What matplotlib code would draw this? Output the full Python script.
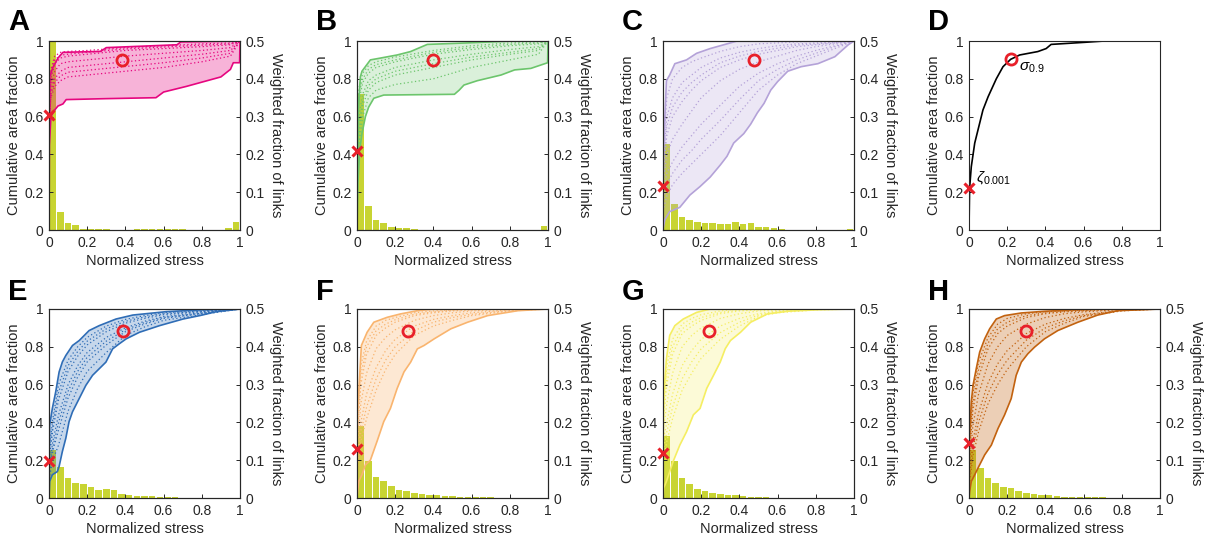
import numpy as np
import matplotlib
matplotlib.use('Agg')
import matplotlib.pyplot as plt
from matplotlib.ticker import FuncFormatter

plt.rcParams['font.family'] = ['Liberation Sans', 'DejaVu Sans']
plt.rcParams['mathtext.fontset'] = 'custom'
plt.rcParams['mathtext.rm'] = 'Liberation Sans'
plt.rcParams['mathtext.it'] = 'Liberation Sans:italic'

# ---- data ----
n_bins = 25  # stress histogram bins on [0, 1]

# A
a_up_x = [0, 0.003, 0.02, 0.047, 0.073, 0.27, 0.30, 0.67, 0.69, 1.0]
a_up_y = [0.3, 0.81, 0.86, 0.91, 0.94, 0.945, 0.965, 0.98, 0.995, 1.0]
a_lo_x = [0, 0.002, 0.01, 0.03, 0.047, 0.073, 0.09, 0.3, 0.56, 0.6, 0.72, 0.9, 0.95, 0.965, 0.998, 1.0]
a_lo_y = [0, 0.45, 0.6, 0.635, 0.656, 0.667, 0.69, 0.695, 0.70, 0.73, 0.76, 0.81, 0.85, 0.885, 0.885, 1.0]
a_grid = [0, 0.01, 0.03, 0.06, 0.1, 0.2, 0.4, 0.6, 0.8, 0.95, 1.0]
a_inner = [
    [0.6, 0.85, 0.92, 0.94, 0.945, 0.95, 0.965, 0.975, 0.985, 0.99, 1.0],
    [0.58, 0.83, 0.9, 0.925, 0.93, 0.94, 0.958, 0.968, 0.978, 0.985, 1.0],
    [0.55, 0.8, 0.88, 0.91, 0.92, 0.93, 0.95, 0.96, 0.97, 0.98, 1.0],
    [0.5, 0.76, 0.84, 0.88, 0.89, 0.9, 0.92, 0.935, 0.95, 0.965, 1.0],
    [0.5, 0.74, 0.8, 0.84, 0.86, 0.87, 0.89, 0.91, 0.93, 0.95, 1.0],
    [0.52, 0.72, 0.78, 0.815, 0.835, 0.845, 0.865, 0.885, 0.91, 0.935, 1.0],
    [0.55, 0.7, 0.76, 0.79, 0.81, 0.82, 0.84, 0.86, 0.89, 0.92, 1.0],
]
a_bars = [0.5, 0.048, 0.018, 0.013, 0.002, 0.003, 0.003, 0.003, 0.001, 0.001, 0.001, 0.002, 0.002,
          0.003, 0.003, 0.003, 0.003, 0.002, 0.001, 0.001, 0.001, 0.001, 0.001, 0.005, 0.022]
a_cross = 0.61
a_circle = (0.38, 0.9)

# B
b_up_x = [0, 0.004, 0.0175, 0.026, 0.07, 0.114, 0.21, 0.28, 0.368, 0.58, 0.82, 1.0]
b_up_y = [0.2, 0.6, 0.81, 0.84, 0.9, 0.908, 0.926, 0.944, 0.982, 0.99, 1.0, 1.0]
b_lo_x = [0, 0.005, 0.014, 0.026, 0.044, 0.061, 0.088, 0.14, 0.51, 0.535, 0.56, 0.63, 0.754, 0.825, 0.91, 0.998, 1.0]
b_lo_y = [0, 0.25, 0.42, 0.51, 0.6, 0.65, 0.697, 0.714, 0.718, 0.74, 0.767, 0.79, 0.82, 0.847, 0.855, 0.885, 1.0]
b_grid = [0, 0.01, 0.03, 0.06, 0.1, 0.2, 0.4, 0.6, 0.8, 0.95, 1.0]
b_inner = [
    [0.3, 0.75, 0.83, 0.87, 0.89, 0.915, 0.95, 0.975, 0.99, 0.995, 1],
    [0.28, 0.72, 0.8, 0.85, 0.875, 0.9, 0.94, 0.965, 0.982, 0.99, 1],
    [0.25, 0.68, 0.78, 0.83, 0.86, 0.89, 0.93, 0.955, 0.975, 0.985, 1],
    [0.25, 0.6, 0.72, 0.79, 0.82, 0.86, 0.9, 0.93, 0.955, 0.97, 1],
    [0.22, 0.55, 0.69, 0.765, 0.8, 0.84, 0.88, 0.915, 0.94, 0.96, 1],
    [0.2, 0.5, 0.66, 0.74, 0.78, 0.82, 0.86, 0.9, 0.93, 0.95, 1],
    [0.2, 0.45, 0.6, 0.7, 0.74, 0.77, 0.8, 0.86, 0.9, 0.93, 1],
]
b_bars = [0.36, 0.0635, 0.026, 0.019, 0.009, 0.005, 0.0045, 0.002, 0.001, 0.001, 0.001, 0.001, 0.001,
          0.001, 0.001, 0.001, 0.001, 0.001, 0.001, 0.001, 0.001, 0.001, 0.001, 0.001, 0.011]
b_cross = 0.42
b_circle = (0.4, 0.9)

# C
c_up_x = [0, 0.004, 0.018, 0.035, 0.062, 0.123, 0.176, 0.247, 0.353, 0.388, 1.0]
c_up_y = [0.2, 0.46, 0.79, 0.82, 0.88, 0.9, 0.935, 0.96, 0.99, 1.0, 1.0]
c_lo_x = [0, 0.009, 0.035, 0.088, 0.141, 0.194, 0.247, 0.3, 0.335, 0.37, 0.423, 0.459, 0.494, 0.529,
          0.564, 0.6, 0.653, 0.723, 0.811, 0.9, 0.97, 1.0]
c_lo_y = [0, 0.053, 0.097, 0.12, 0.185, 0.23, 0.28, 0.344, 0.39, 0.46, 0.51, 0.56, 0.62, 0.67,
          0.74, 0.785, 0.84, 0.864, 0.88, 0.917, 0.98, 1.0]
c_grid = [0, 0.02, 0.05, 0.1, 0.15, 0.2, 0.3, 0.4, 0.5, 0.6, 0.7, 0.8, 0.9, 1.0]
c_inner = [
    [0.4, 0.7, 0.8, 0.86, 0.89, 0.91, 0.945, 0.97, 0.985, 0.99, 0.995, 1, 1, 1],
    [0.35, 0.6, 0.7, 0.78, 0.82, 0.86, 0.91, 0.94, 0.96, 0.975, 0.985, 0.99, 0.995, 1],
    [0.32, 0.55, 0.65, 0.73, 0.78, 0.82, 0.885, 0.92, 0.945, 0.962, 0.978, 0.985, 0.992, 1],
    [0.3, 0.5, 0.6, 0.68, 0.74, 0.79, 0.86, 0.9, 0.93, 0.95, 0.97, 0.98, 0.99, 1],
    [0.25, 0.4, 0.48, 0.56, 0.63, 0.7, 0.79, 0.85, 0.89, 0.92, 0.95, 0.97, 0.985, 1],
    [0.2, 0.3, 0.36, 0.44, 0.5, 0.56, 0.66, 0.76, 0.83, 0.88, 0.92, 0.95, 0.975, 1],
    [0.15, 0.24, 0.3, 0.37, 0.42, 0.48, 0.58, 0.69, 0.79, 0.85, 0.9, 0.935, 0.97, 1],
    [0.1, 0.18, 0.24, 0.3, 0.35, 0.4, 0.5, 0.62, 0.74, 0.82, 0.88, 0.92, 0.96, 1],
]
c_bars = [0.228, 0.07, 0.034, 0.026, 0.021, 0.018, 0.018, 0.016, 0.016, 0.022, 0.015, 0.019, 0.008,
          0.007, 0.004, 0.003, 0.001, 0.001, 0.001, 0.001, 0.001, 0.001, 0.001, 0.001, 0.003]
c_cross = 0.235
c_circle = (0.476, 0.9)

# D (single example curve)
d_x = [0, 0.003, 0.012, 0.03, 0.073, 0.1, 0.143, 0.178, 0.218, 0.265, 0.36, 0.404, 0.43, 0.605, 0.71, 1.0]
d_y = [0, 0.22, 0.335, 0.46, 0.635, 0.705, 0.8, 0.864, 0.903, 0.926, 0.944, 0.96, 0.982, 0.993, 1.0, 1.0]
d_cross = 0.224
d_circle = (0.218, 0.903)

# E
e_up_x = [0, 0.0035, 0.0175, 0.035, 0.053, 0.07, 0.088, 0.123, 0.158, 0.21, 0.263, 0.351, 0.439, 0.614, 0.789, 1.0]
e_up_y = [0.2, 0.386, 0.474, 0.561, 0.667, 0.72, 0.754, 0.807, 0.833, 0.886, 0.912, 0.947, 0.968, 0.986, 0.995, 1.0]
e_lo_x = [0, 0.0035, 0.0175, 0.044, 0.053, 0.07, 0.088, 0.105, 0.123, 0.158, 0.193, 0.228, 0.263, 0.298,
          0.333, 0.368, 0.404, 0.474, 0.579, 0.702, 0.789, 0.877, 1.0]
e_lo_y = [0, 0.088, 0.123, 0.14, 0.167, 0.246, 0.316, 0.404, 0.456, 0.526, 0.596, 0.649, 0.684, 0.719,
          0.789, 0.816, 0.842, 0.877, 0.912, 0.947, 0.965, 0.986, 1.0]
e_grid = [0, 0.02, 0.05, 0.1, 0.15, 0.2, 0.3, 0.4, 0.5, 0.6, 0.8, 1.0]
e_inner = [
    [0.25, 0.42, 0.6, 0.73, 0.8, 0.85, 0.91, 0.945, 0.965, 0.98, 0.99, 1],
    [0.22, 0.39, 0.56, 0.7, 0.775, 0.83, 0.895, 0.935, 0.958, 0.975, 0.988, 1],
    [0.2, 0.36, 0.52, 0.67, 0.75, 0.81, 0.88, 0.925, 0.95, 0.97, 0.985, 1],
    [0.15, 0.3, 0.44, 0.6, 0.7, 0.77, 0.85, 0.9, 0.935, 0.96, 0.98, 1],
    [0.14, 0.27, 0.4, 0.565, 0.67, 0.745, 0.83, 0.89, 0.928, 0.955, 0.978, 1],
    [0.12, 0.25, 0.36, 0.53, 0.64, 0.72, 0.81, 0.88, 0.92, 0.95, 0.975, 1],
    [0.1, 0.2, 0.28, 0.46, 0.58, 0.67, 0.77, 0.86, 0.905, 0.94, 0.97, 1],
]
e_bars = [0.127, 0.081, 0.053, 0.041, 0.037, 0.030, 0.022, 0.025, 0.021, 0.011, 0.009, 0.006, 0.005,
          0.004, 0.003, 0.002, 0.002, 0.001, 0.001, 0.001, 0.001, 0.001, 0.0005, 0.0005, 0.0005]
e_cross = 0.198
e_circle = (0.389, 0.886)

# F
f_up_x = [0, 0.0035, 0.014, 0.023, 0.053, 0.088, 0.158, 0.228, 0.316, 0.404, 1.0]
f_up_y = [0.2, 0.474, 0.649, 0.807, 0.877, 0.93, 0.956, 0.974, 0.991, 1.0, 1.0]
f_lo_x = [0, 0.009, 0.026, 0.044, 0.07, 0.105, 0.14, 0.175, 0.21, 0.246, 0.281, 0.316, 0.351, 0.404,
          0.491, 0.579, 0.684, 0.842, 1.0]
f_lo_y = [0, 0.088, 0.123, 0.175, 0.2, 0.3, 0.404, 0.474, 0.579, 0.667, 0.719, 0.789, 0.807, 0.842,
          0.895, 0.93, 0.965, 0.991, 1.0]
f_grid = [0, 0.02, 0.05, 0.1, 0.15, 0.2, 0.3, 0.4, 0.5, 0.6, 0.8, 1.0]
f_inner = [
    [0.35, 0.7, 0.83, 0.91, 0.94, 0.955, 0.98, 0.99, 0.995, 1, 1, 1],
    [0.32, 0.65, 0.8, 0.885, 0.92, 0.943, 0.972, 0.985, 0.993, 0.998, 1, 1],
    [0.3, 0.6, 0.76, 0.86, 0.9, 0.93, 0.965, 0.98, 0.99, 0.995, 1, 1],
    [0.25, 0.5, 0.66, 0.79, 0.85, 0.89, 0.94, 0.965, 0.98, 0.99, 0.998, 1],
    [0.2, 0.4, 0.55, 0.69, 0.78, 0.84, 0.91, 0.945, 0.965, 0.98, 0.995, 1],
    [0.18, 0.35, 0.48, 0.63, 0.73, 0.8, 0.885, 0.93, 0.955, 0.972, 0.993, 1],
    [0.15, 0.3, 0.42, 0.57, 0.68, 0.76, 0.86, 0.91, 0.94, 0.965, 0.99, 1],
]
f_bars = [0.19, 0.098, 0.055, 0.044, 0.032, 0.022, 0.0175, 0.012, 0.0105, 0.009, 0.007, 0.006, 0.004,
          0.003, 0.003, 0.002, 0.002, 0.002, 0.001, 0.001, 0.001, 0.001, 0.001, 0.001, 0.001]
f_cross = 0.26
f_circle = (0.267, 0.886)

# G
g_up_x = [0, 0.0035, 0.018, 0.035, 0.062, 0.106, 0.176, 0.247, 1.0]
g_up_y = [0.2, 0.54, 0.737, 0.86, 0.912, 0.947, 0.982, 1.0, 1.0]
g_lo_x = [0, 0.0035, 0.018, 0.053, 0.088, 0.123, 0.159, 0.194, 0.229, 0.265, 0.3, 0.326, 0.353, 0.406,
          0.459, 0.547, 0.653, 0.811, 1.0]
g_lo_y = [0, 0.053, 0.088, 0.193, 0.28, 0.35, 0.44, 0.474, 0.58, 0.65, 0.72, 0.79, 0.833, 0.877,
          0.93, 0.974, 0.988, 0.996, 1.0]
g_grid = [0, 0.02, 0.05, 0.1, 0.15, 0.2, 0.3, 0.4, 0.5, 0.6, 0.8, 1.0]
g_inner = [
    [0.45, 0.7, 0.84, 0.92, 0.95, 0.97, 0.99, 1, 1, 1, 1, 1],
    [0.42, 0.65, 0.8, 0.895, 0.93, 0.955, 0.982, 0.995, 0.998, 1, 1, 1],
    [0.4, 0.6, 0.76, 0.87, 0.91, 0.94, 0.975, 0.99, 0.995, 1, 1, 1],
    [0.35, 0.5, 0.66, 0.8, 0.86, 0.9, 0.95, 0.975, 0.99, 0.995, 1, 1],
    [0.3, 0.4, 0.55, 0.7, 0.78, 0.84, 0.91, 0.95, 0.975, 0.99, 1, 1],
    [0.25, 0.35, 0.48, 0.63, 0.72, 0.79, 0.875, 0.93, 0.968, 0.985, 0.998, 1],
    [0.2, 0.3, 0.42, 0.57, 0.66, 0.74, 0.84, 0.91, 0.96, 0.98, 0.995, 1],
]
g_bars = [0.164, 0.099, 0.054, 0.038, 0.024, 0.0175, 0.013, 0.0105, 0.008, 0.007, 0.005, 0.0035, 0.0026,
          0.002, 0.001, 0.001, 0.001, 0, 0, 0, 0, 0, 0, 0, 0]
g_cross = 0.237
g_circle = (0.243, 0.886)

# H
h_up_x = [0, 0.0035, 0.012, 0.021, 0.038, 0.056, 0.082, 0.108, 0.143, 0.186, 0.274, 0.395, 0.535, 0.709, 1.0]
h_up_y = [0.2, 0.333, 0.509, 0.596, 0.684, 0.772, 0.842, 0.895, 0.947, 0.965, 0.979, 0.988, 0.995, 1.0, 1.0]
h_lo_x = [0, 0.0035, 0.012, 0.03, 0.047, 0.082, 0.117, 0.152, 0.186, 0.221, 0.247, 0.274, 0.308, 0.343,
          0.395, 0.465, 0.57, 0.674, 0.779, 1.0]
h_lo_y = [0, 0.035, 0.088, 0.123, 0.158, 0.228, 0.28, 0.368, 0.439, 0.526, 0.649, 0.719, 0.763, 0.798,
          0.842, 0.886, 0.93, 0.968, 0.991, 1.0]
h_grid = [0, 0.02, 0.05, 0.1, 0.15, 0.2, 0.3, 0.4, 0.5, 0.6, 0.8, 1.0]
h_inner = [
    [0.25, 0.55, 0.72, 0.85, 0.92, 0.95, 0.975, 0.985, 0.99, 0.995, 1, 1],
    [0.22, 0.5, 0.68, 0.82, 0.895, 0.93, 0.965, 0.98, 0.988, 0.993, 1, 1],
    [0.2, 0.46, 0.64, 0.79, 0.87, 0.91, 0.955, 0.975, 0.985, 0.99, 1, 1],
    [0.15, 0.38, 0.55, 0.71, 0.8, 0.86, 0.92, 0.955, 0.975, 0.985, 0.997, 1],
    [0.1, 0.3, 0.45, 0.61, 0.71, 0.78, 0.87, 0.92, 0.95, 0.97, 0.993, 1],
    [0.08, 0.26, 0.4, 0.555, 0.655, 0.73, 0.835, 0.9, 0.938, 0.965, 0.992, 1],
    [0.05, 0.22, 0.35, 0.5, 0.6, 0.68, 0.8, 0.88, 0.925, 0.96, 0.99, 1],
]
h_bars = [0.127, 0.079, 0.053, 0.041, 0.028, 0.026, 0.0175, 0.013, 0.0105, 0.009, 0.008, 0.005, 0.0035,
          0.0035, 0.0026, 0.002, 0.002, 0.002, 0.001, 0, 0, 0, 0, 0, 0]
h_cross = 0.29
h_circle = (0.296, 0.886)

# ---- style ----
bar_color = '#c8d432'
marker_red = '#e8202a'
panel_colors = {
    'A': '#e6067f', 'B': '#6cc56c', 'C': '#b4a2d8', 'E': '#2f6db6',
    'F': '#f9b46e', 'G': '#f5ee62', 'H': '#c2620f',
}
fill_alpha = {'A': 0.3, 'B': 0.25, 'C': 0.25, 'E': 0.27, 'F': 0.3, 'G': 0.25, 'H': 0.3}

W, H = 1213, 541
fig = plt.figure(figsize=(W / 100, H / 100), dpi=100)

col_left = [49, 357, 663, 969]
row_bottom = [230, 498]
ax_w, ax_h = 191, 189

fmt = FuncFormatter(lambda v, p: '%g' % round(v, 3))


def style_axes(ax):
    ax.set_xlim(0, 1)
    ax.set_ylim(0, 1)
    ax.set_xticks(np.arange(0, 1.01, 0.2))
    ax.set_yticks(np.arange(0, 1.01, 0.2))
    ax.xaxis.set_major_formatter(fmt)
    ax.yaxis.set_major_formatter(fmt)
    ax.tick_params(direction='in', length=3, width=0.7, labelsize=10, pad=4, colors='#262626')
    for s in ax.spines.values():
        s.set_color('#262626')
        s.set_linewidth(0.8)
    ax.set_xlabel('Normalized stress', fontsize=10.5, labelpad=3, color='#262626')
    ax.set_ylabel('Cumulative area fraction', fontsize=10.5, labelpad=2, color='#262626')


def make_axes(row, col):
    left = col_left[col] / W
    bottom = 1 - row_bottom[row] / H
    return fig.add_axes([left, bottom, ax_w / W, ax_h / H])


def panel_letter(row, col, letter):
    x = (col_left[col] - 41) / W
    y = 1 - (30 + row * 270) / H
    fig.text(x, y, letter, fontsize=21, fontweight='bold', ha='left', va='baseline')


def draw_panel(row, col, letter, up_x, up_y, lo_x, lo_y, grid, inner, bars, cross, circle):
    color = panel_colors[letter]
    ax = make_axes(row, col)
    ax2 = ax.twinx()
    # histogram on the right axis, underneath the curves
    edges = np.linspace(0, 1, n_bins + 1)
    centers = (edges[:-1] + edges[1:]) / 2
    ax2.bar(centers, bars, width=0.034, color=bar_color, linewidth=0)
    ax2.set_ylim(0, 0.5)
    ax2.set_yticks(np.arange(0, 0.51, 0.1))
    ax2.yaxis.set_major_formatter(fmt)
    ax2.tick_params(direction='in', length=3, width=0.7, labelsize=10, pad=4, colors='#262626')
    ax2.set_ylabel('Weighted fraction of links', fontsize=10.5, rotation=270, labelpad=13, color='#262626')
    for s in ax2.spines.values():
        s.set_color('#262626')
        s.set_linewidth(0.8)
    ax.set_zorder(ax2.get_zorder() + 1)
    ax.patch.set_visible(False)

    # band between min and max curves
    px = np.concatenate([up_x, lo_x[::-1]])
    py = np.concatenate([up_y, lo_y[::-1]])
    ax.fill(px, py, color=color, alpha=fill_alpha[letter], linewidth=0)
    ax.plot(up_x, up_y, color=color, lw=1.2)
    ax.plot(lo_x, lo_y, color=color, lw=1.2)
    for curve in inner:
        ax.plot(grid, curve, color=color, lw=0.9, ls=(0, (1, 2)))

    ax.plot([0], [cross], marker='x', color=marker_red, ms=7, mew=2.2, ls='none', clip_on=False, zorder=5)
    ax.plot([circle[0]], [circle[1]], marker='o', mfc='none', mec=marker_red, ms=8, mew=2,
            ls='none', zorder=5)
    style_axes(ax)
    panel_letter(row, col, letter)


draw_panel(0, 0, 'A', a_up_x, a_up_y, a_lo_x, a_lo_y, a_grid, a_inner, a_bars, a_cross, a_circle)
draw_panel(0, 1, 'B', b_up_x, b_up_y, b_lo_x, b_lo_y, b_grid, b_inner, b_bars, b_cross, b_circle)
draw_panel(0, 2, 'C', c_up_x, c_up_y, c_lo_x, c_lo_y, c_grid, c_inner, c_bars, c_cross, c_circle)
draw_panel(1, 0, 'E', e_up_x, e_up_y, e_lo_x, e_lo_y, e_grid, e_inner, e_bars, e_cross, e_circle)
draw_panel(1, 1, 'F', f_up_x, f_up_y, f_lo_x, f_lo_y, f_grid, f_inner, f_bars, f_cross, f_circle)
draw_panel(1, 2, 'G', g_up_x, g_up_y, g_lo_x, g_lo_y, g_grid, g_inner, g_bars, g_cross, g_circle)
draw_panel(1, 3, 'H', h_up_x, h_up_y, h_lo_x, h_lo_y, h_grid, h_inner, h_bars, h_cross, h_circle)

# panel D: one example curve with the two summary points
axd = make_axes(0, 3)
axd.plot(d_x, d_y, color='black', lw=1.2)
axd.plot([0], [d_cross], marker='x', color=marker_red, ms=7, mew=2.2, ls='none', clip_on=False, zorder=5)
axd.plot([d_circle[0]], [d_circle[1]], marker='o', mfc='none', mec=marker_red, ms=8, mew=2, ls='none', zorder=5)
axd.text(d_circle[0] + 0.045, d_circle[1] - 0.045, r'$\sigma_{0.9}$', fontsize=11, va='center', ha='left')
axd.text(0.035, d_cross + 0.055, r'$\zeta_{0.001}$', fontsize=11, va='center', ha='left')
style_axes(axd)
axd.tick_params(right=False, top=False)
panel_letter(0, 3, 'D')

fig.savefig('out.png', dpi=100)
